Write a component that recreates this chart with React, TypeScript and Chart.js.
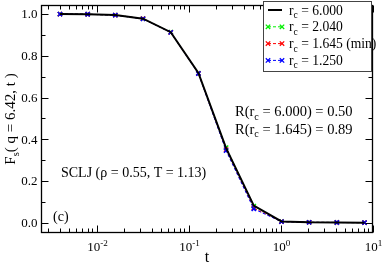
import React, { useEffect, useRef } from "react";
import { Chart, registerables } from "chart.js";

Chart.register(...registerables);

// ---- data ----
const times = [0.004, 0.008, 0.016, 0.032, 0.064, 0.128, 0.256, 0.512, 1.024, 2.048, 4.096, 8.192];
const fsRc6000 = [1.0, 0.999, 0.995, 0.978, 0.913, 0.718, 0.357, 0.082, 0.006, 0.002, 0.001, 0.0];
const fsRc2040 = [1.0, 0.999, 0.995, 0.978, 0.913, 0.717, 0.36, 0.079, 0.006, 0.002, 0.001, 0.0];
const fsRc1645 = [1.0, 0.999, 0.995, 0.978, 0.912, 0.716, 0.35, 0.07, 0.005, 0.002, 0.001, 0.0];
const fsRc1250 = [1.0, 0.999, 0.995, 0.977, 0.912, 0.715, 0.345, 0.066, 0.005, 0.002, 0.001, 0.0];
const rcLabels = ["6.000", "2.040", "1.645 (min)", "1.250"];
const seriesColors = ["#000000", "#00ee00", "#ff0000", "#0000ff"];
const yMajorTicks = [0, 0.2, 0.4, 0.6, 0.8, 1.0];
const yMajorLabels = ["0.0", "0.2", "0.4", "0.6", "0.8", "1.0"];
const yMinorTicks = [0.1, 0.3, 0.5, 0.7, 0.9];
const xDecadeExponents = [-3, -2, -1, 0, 1];
const xLabelExponents = ["-2", "-1", "0", "1"];
const rAnnotations = [
  { rc: "6.000", r: "0.50" },
  { rc: "1.645", r: "0.89" },
];
const systemLabel = "SCLJ (\u03c1 = 0.55, T = 1.13)";
const panelLabel = "(c)";

const SERIF = "'Liberation Serif', 'Times New Roman', serif";

type Part = { t: string; sub?: boolean; sup?: boolean };

function richWidth(ctx: CanvasRenderingContext2D, parts: Part[], size: number) {
  let w = 0;
  for (const p of parts) {
    const s = p.sub || p.sup ? size * 0.7 : size;
    ctx.font = `${s}px ${SERIF}`;
    w += ctx.measureText(p.t).width;
  }
  return w;
}

function drawRich(
  ctx: CanvasRenderingContext2D,
  parts: Part[],
  x: number,
  y: number,
  size: number,
  align: "left" | "center" | "right" = "left"
) {
  const w = richWidth(ctx, parts, size);
  let cx = align === "left" ? x : align === "center" ? x - w / 2 : x - w;
  ctx.textAlign = "left";
  ctx.textBaseline = "alphabetic";
  for (const p of parts) {
    const s = p.sub || p.sup ? size * 0.7 : size;
    ctx.font = `${s}px ${SERIF}`;
    const dy = p.sub ? size * 0.25 : p.sup ? -size * 0.4 : 0;
    ctx.fillText(p.t, cx, y + dy);
    cx += ctx.measureText(p.t).width;
  }
}

const decorPlugin = {
  id: "decor",
  afterDatasetsDraw(chart: any) {
    const { ctx, chartArea: a, scales } = chart;
    const xs = scales.x;
    const ys = scales.y;
    ctx.save();
    ctx.fillStyle = "#000";
    ctx.strokeStyle = "#000";
    ctx.lineWidth = 1;

    // y ticks
    const yTick = (v: number, len: number) => {
      const p = Math.round(ys.getPixelForValue(v)) + 0.5;
      ctx.beginPath();
      ctx.moveTo(a.left, p);
      ctx.lineTo(a.left + len, p);
      ctx.moveTo(a.right, p);
      ctx.lineTo(a.right - len, p);
      ctx.stroke();
    };
    yMajorTicks.forEach((v) => yTick(v, 7));
    yMinorTicks.forEach((v) => yTick(v, 4));

    // x ticks
    for (const e of xDecadeExponents) {
      for (let m = 1; m <= 9; m++) {
        const v = m * Math.pow(10, e);
        if (v < xs.min || v > xs.max * 1.0001) continue;
        const len = m === 1 ? 7 : 4;
        const p = Math.round(xs.getPixelForValue(v)) + 0.5;
        ctx.beginPath();
        ctx.moveTo(p, a.bottom);
        ctx.lineTo(p, a.bottom - len);
        ctx.moveTo(p, a.top);
        ctx.lineTo(p, a.top + len);
        ctx.stroke();
      }
    }

    // frame
    ctx.lineWidth = 1.3;
    ctx.strokeRect(a.left, a.top, a.right - a.left, a.bottom - a.top);

    // y labels
    ctx.font = `13px ${SERIF}`;
    ctx.textAlign = "right";
    ctx.textBaseline = "middle";
    yMajorTicks.forEach((v, i) => {
      ctx.fillText(yMajorLabels[i], a.left - 4, ys.getPixelForValue(v) + 1);
    });

    // x labels
    xLabelExponents.forEach((e) => {
      const p = xs.getPixelForValue(Math.pow(10, Number(e)));
      drawRich(ctx, [{ t: "10" }, { t: e, sup: true }], p + 1, 251, 13, "center");
    });

    // axis titles
    drawRich(ctx, [{ t: "t" }], (a.left + a.right) / 2, 262, 16, "center");
    ctx.save();
    ctx.translate(15, (a.top + a.bottom) / 2);
    ctx.rotate(-Math.PI / 2);
    drawRich(
      ctx,
      [{ t: "F" }, { t: "s", sub: true }, { t: "( q = 6.42, t )" }],
      0,
      0,
      15,
      "center"
    );
    ctx.restore();

    // legend box
    const lx0 = 263.5, ly0 = 1.5, lx1 = 371.5, ly1 = 71.5;
    ctx.fillStyle = "#fff";
    ctx.fillRect(lx0, ly0, lx1 - lx0, ly1 - ly0);
    ctx.strokeStyle = "#444";
    ctx.lineWidth = 1;
    ctx.strokeRect(lx0, ly0, lx1 - lx0, ly1 - ly0);
    const dsets = chart.data.datasets;
    rcLabels.forEach((lab, i) => {
      const yy = 10 + i * 16.8;
      const ds = dsets[i];
      ctx.strokeStyle = ds.borderColor;
      ctx.lineWidth = ds.borderWidth;
      ctx.setLineDash(ds.borderDash || []);
      ctx.beginPath();
      ctx.moveTo(268, yy);
      ctx.lineTo(282, yy);
      ctx.stroke();
      ctx.setLineDash([]);
      if (ds.pointRadius > 0) {
        ctx.lineWidth = 1.3;
        const r = 2.2;
        for (const px of [268, 282]) {
          ctx.beginPath();
          ctx.moveTo(px - r, yy - r);
          ctx.lineTo(px + r, yy + r);
          ctx.moveTo(px - r, yy + r);
          ctx.lineTo(px + r, yy - r);
          ctx.stroke();
        }
      }
      ctx.fillStyle = "#000";
      drawRich(ctx, [{ t: "r" }, { t: "c", sub: true }, { t: " = " + lab }], 289, yy + 4.5, 13.6, "left");
    });

    // annotations
    ctx.fillStyle = "#000";
    rAnnotations.forEach((an, i) => {
      drawRich(
        ctx,
        [{ t: "R(r" }, { t: "c", sub: true }, { t: " = " + an.rc + ") = " + an.r }],
        235,
        116 + i * 17.5,
        14.5,
        "left"
      );
    });
    drawRich(ctx, [{ t: systemLabel }], 61, 176.5, 14, "left");
    drawRich(ctx, [{ t: panelLabel }], 53, 220.5, 14, "left");

    ctx.restore();
  },
};

export default function App() {
  const ref = useRef<HTMLCanvasElement | null>(null);
  useEffect(() => {
    if (!ref.current) return;
    const mk = (vals: number[]) => times.map((t, i) => ({ x: t, y: vals[i] }));
    const chart = new Chart(ref.current, {
      type: "line",
      data: {
        datasets: [
          {
            label: rcLabels[0],
            data: mk(fsRc6000),
            borderColor: seriesColors[0],
            backgroundColor: seriesColors[0],
            borderWidth: 2,
            pointRadius: 0,
            order: 0,
          },
          {
            label: rcLabels[1],
            data: mk(fsRc2040),
            borderColor: seriesColors[1],
            backgroundColor: seriesColors[1],
            borderWidth: 1,
            borderDash: [3, 2],
            pointStyle: "crossRot",
            pointRadius: 3,
            pointBorderWidth: 1.5,
            order: 3,
          },
          {
            label: rcLabels[2],
            data: mk(fsRc1645),
            borderColor: seriesColors[2],
            backgroundColor: seriesColors[2],
            borderWidth: 1,
            borderDash: [3, 2],
            pointStyle: "crossRot",
            pointRadius: 3,
            pointBorderWidth: 1.5,
            order: 2,
          },
          {
            label: rcLabels[3],
            data: mk(fsRc1250),
            borderColor: seriesColors[3],
            backgroundColor: seriesColors[3],
            borderWidth: 1,
            borderDash: [3, 2],
            pointStyle: "crossRot",
            pointRadius: 3,
            pointBorderWidth: 1.5,
            order: 1,
          },
        ],
      },
      options: {
        animation: false,
        responsive: false,
        devicePixelRatio: 1,
        layout: { padding: { left: 41.5, right: 9.5, top: 2.5, bottom: 31.5 } },
        plugins: { legend: { display: false }, tooltip: { enabled: false } },
        scales: {
          x: { type: "logarithmic", min: 0.00252, max: 10, display: false },
          y: { type: "linear", min: -0.047, max: 1.041, display: false },
        },
      },
      plugins: [decorPlugin],
    });
    return () => chart.destroy();
  }, []);
  return (
    <div style={{ position: "absolute", left: 0, top: 0, width: 382, height: 264, background: "#fff" }}>
      <canvas ref={ref} width={382} height={264} style={{ width: 382, height: 264 }} />
    </div>
  );
}
